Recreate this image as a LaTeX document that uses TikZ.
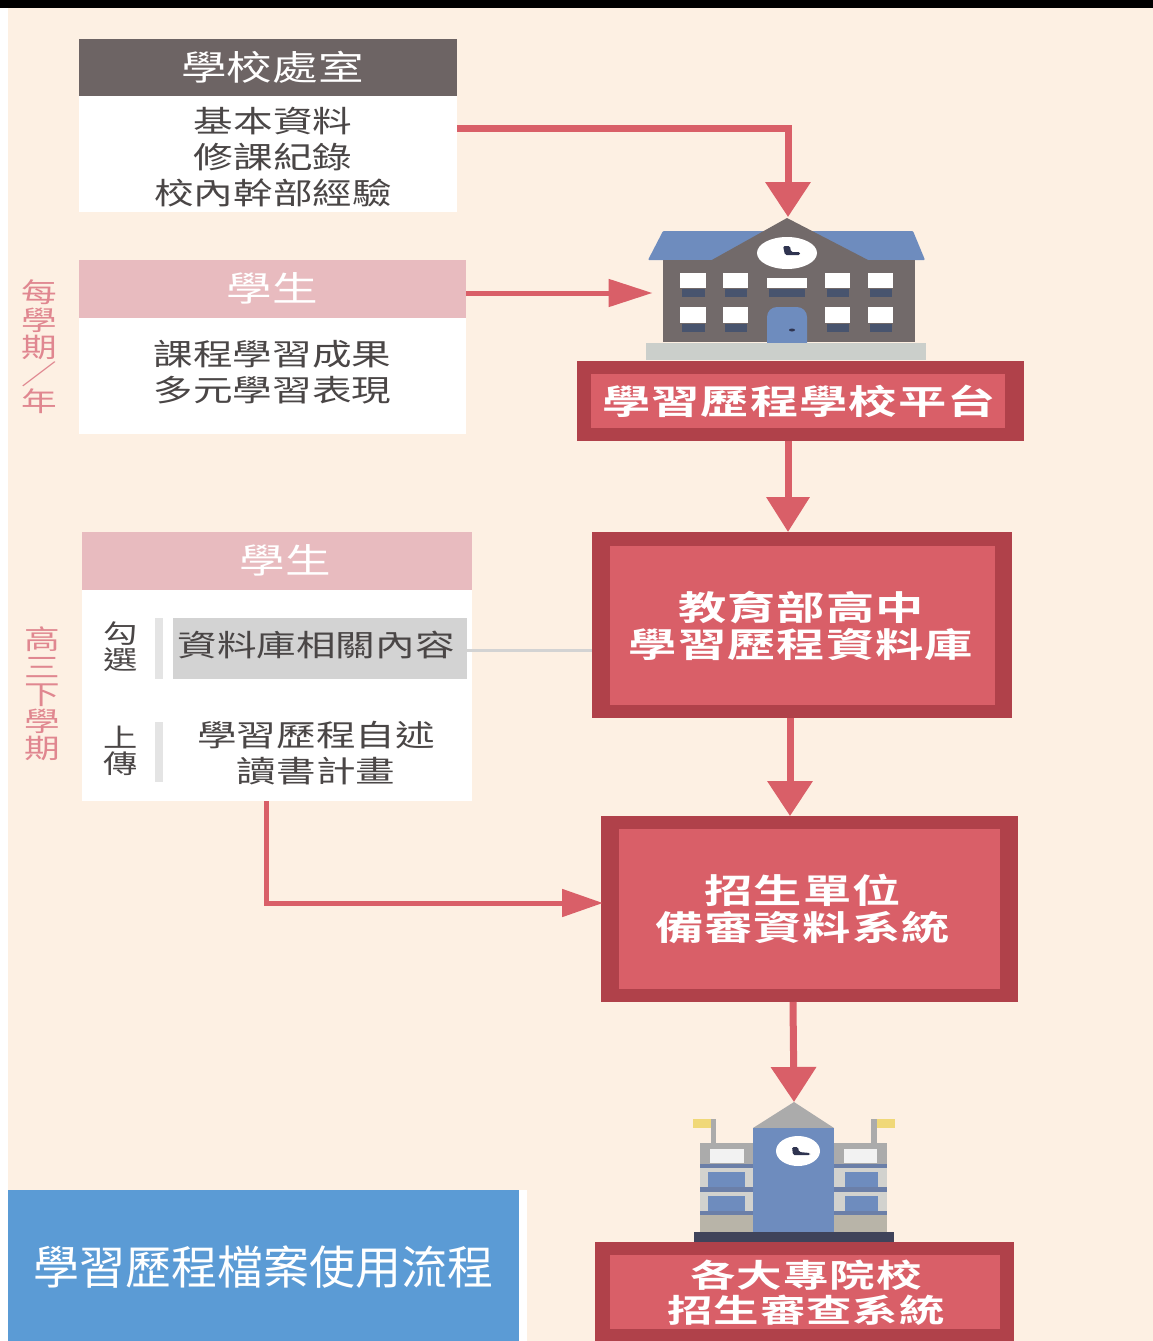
\documentclass[tikz,border=0pt]{standalone}
\usepackage{fontspec}
\usetikzlibrary{arrows.meta}
\newfontfamily\cjk[FakeStretch=1.32]{Noto Sans CJK TC}
\newfontfamily\cjkb[FakeStretch=1.42,BoldFont={Noto Sans CJK TC Bold},LetterSpace=3]{Noto Sans CJK TC}
\newfontfamily\cjkt{Noto Sans CJK TC}
\definecolor{bgc}{HTML}{FDF0E3}
\definecolor{redin}{HTML}{D95F68}
\definecolor{redout}{HTML}{B0414A}
\definecolor{darkh}{HTML}{6D6464}
\definecolor{pinkh}{HTML}{E8BBBF}
\definecolor{txt}{HTML}{4A4646}
\definecolor{pinkt}{HTML}{E08790}
\definecolor{gbar}{HTML}{E4E4E4}
\definecolor{gbox}{HTML}{D3D3D3}
\definecolor{bluea}{HTML}{6E8CBE}
\definecolor{greyb}{HTML}{726A6A}
\definecolor{darkw}{HTML}{48546E}
\definecolor{basec}{HTML}{CBCFCB}
\definecolor{wing}{HTML}{ABABAB}
\definecolor{winl}{HTML}{D2D2CE}
\definecolor{winb}{HTML}{B8B4A8}
\definecolor{strip}{HTML}{6B7FA8}
\definecolor{flag}{HTML}{F0D878}
\definecolor{hand}{HTML}{2F3450}
\definecolor{titleblue}{HTML}{5B9BD5}
\tikzset{
  plain/.style={inner sep=0pt,outer sep=0pt,align=center},
  headtext/.style={plain,text=white,font=\cjk\fontsize{34.5}{36}\selectfont},
  bodytext/.style={plain,text=txt,font=\cjk\fontsize{30}{36}\selectfont},
  sidetext/.style={plain,text=txt,font=\cjk\fontsize{26}{26}\selectfont},
  periodtext/.style={plain,text=pinkt,font=\cjk\fontsize{27}{27.2}\selectfont},
  redouter/.style={plain,fill=redout},
  redinner/.style={plain,fill=redin},
  redtext/.style={plain,text=white,font=\cjkb\bfseries\fontsize{34}{37}\selectfont},
  varrow/.style={draw=redin,line width=7pt,-{Triangle[length=35pt,width=44pt]}},
  harrow/.style={draw=redin,line width=5pt,-{Triangle[length=44pt,width=27pt]}},
}
\begin{document}
\begin{tikzpicture}[x=1pt,y=-1pt]
\useasboundingbox (0,0) rectangle (1153,1341);
\fill[white] (0,0) rectangle (1153,1341);
\fill[bgc] (8,8) rectangle (1153,1341);
\fill[black] (0,0) rectangle (1153,8);

% left column: school office
\node[plain,fill=darkh,minimum width=378pt,minimum height=57pt] (officehead) at (268,67.5) {};
\node[headtext] (officelabel) at (272.5,67) {學校處室};
\node[plain,fill=white,minimum width=378pt,minimum height=116pt] (office) at (268,154) {};
\node[bodytext] (officetext) at (273,157) {基本資料\\修課紀錄\\校內幹部經驗};

% student (each term)
\node[plain,fill=pinkh,minimum width=387pt,minimum height=58pt] (stuhead) at (272.5,289) {};
\node[headtext] (stulabel) at (272,288.5) {學生};
\node[plain,fill=white,minimum width=387pt,minimum height=116pt] (stu) at (272.5,376) {};
\node[bodytext] (stutext) at (272.5,372) {課程學習成果\\多元學習表現};

% student (senior year)
\node[plain,fill=pinkh,minimum width=390pt,minimum height=58pt] (stubhead) at (277,561) {};
\node[headtext] (stublabel) at (285,560.5) {學生};
\node[plain,fill=white,minimum width=390pt,minimum height=211pt] (stub) at (277,695.5) {};
\node[plain,fill=gbox,minimum width=294pt,minimum height=61pt] (dbitem) at (320,648.5) {};
\node[bodytext] (dbtext) at (316,645.5) {資料庫相關內容};
\node[plain,fill=gbar,minimum width=8pt,minimum height=61pt] (barone) at (159,648.5) {};
\node[plain,fill=gbar,minimum width=8pt,minimum height=60pt] (bartwo) at (159,752) {};
\node[sidetext] (pick) at (121,647) {勾\\選};
\node[sidetext] (upload) at (121,751) {上\\傳};
\node[bodytext] (selfdoc) at (316,753.5) {學習歷程自述\\讀書計畫};

% period labels
\node[periodtext] (termlabel) at (39,347) {每\\學\\期\\／\\年};
\node[periodtext] (yearlabel) at (42,694) {高\\三\\下\\學\\期};

% school building
\node[plain,minimum width=281pt,minimum height=143pt] (school) at (786,288.5) {};
\fill[bluea,rounded corners=1pt] (663,231) -- (913,231) -- (925,260) -- (648,260) -- cycle;
\fill[greyb] (663,260) rectangle (915,342);
\fill[greyb] (710,261) -- (787,218) -- (870,261) -- cycle;
\fill[white] (787,253) ellipse [x radius=30pt,y radius=16pt];
\fill[hand,rounded corners=1.5pt] (783,246) -- (790,246) -- (791,252) -- (800,252) -- (800,255) -- (785,255) -- cycle;
\foreach \a/\b in {680/706,723/748,825/850,868/893}{
  \fill[white] (\a,273) rectangle (\b,288);
  \fill[darkw] (\a+2,289) rectangle (\b-1,297);
  \fill[white] (\a,307) rectangle (\b,323);
  \fill[darkw] (\a+2,324) rectangle (\b-1,332);
}
\fill[white] (767,278) rectangle (807,288);
\fill[darkw] (769,289) rectangle (805,297);
\fill[bluea] (767,343) [rounded corners=10pt] -- (767,307) -- (807,307) [sharp corners] -- (807,343) -- cycle;
\fill[hand] (792,330) ellipse [x radius=3pt,y radius=1.5pt];
\fill[basec] (646,343) rectangle (926,360);

% red system boxes
\node[redouter,minimum width=447pt,minimum height=80pt] (plat) at (800.5,401) {};
\node[redinner,minimum width=414pt,minimum height=54pt] (platin) at (798,401) {};
\node[redtext] (plattext) at (799,401) {學習歷程學校平台};
\node[redouter,minimum width=420pt,minimum height=186pt] (db) at (802,625) {};
\node[redinner,minimum width=385pt,minimum height=159pt] (dbin) at (802,625.5) {};
\node[redtext] (dbtext2) at (801,625.5) {教育部高中\\學習歷程資料庫};
\node[redouter,minimum width=417pt,minimum height=186pt] (rec) at (809.5,909) {};
\node[redinner,minimum width=381pt,minimum height=160pt] (recin) at (809.5,909) {};
\node[redtext] (rectext) at (802.5,908.5) {招生單位\\備審資料系統};
\node[redouter,minimum width=419pt,minimum height=99pt,anchor=north] (uni) at (804.5,1242) {};
\node[redinner,minimum width=390pt,minimum height=74pt,anchor=north] (uniin) at (805,1255) {};
\node[redtext,font=\cjkb\bfseries\fontsize{32}{35}\selectfont] (unitext) at (806,1292.5) {各大專院校\\招生審查系統};

% university building
\node[plain,minimum width=200pt,minimum height=139pt] (college) at (794,1171.5) {};
\foreach \a/\b/\c/\d/\e/\f in {700/753/710/744/708/745,834/887/844/877/845/878}{
  \fill[wing] (\a,1143) rectangle (\b,1232);
  \fill[white!90!gray] (\c,1149) rectangle (\d,1163);
  \fill[winl] (\a,1168) rectangle (\b,1215);
  \fill[strip] (\a,1164) rectangle (\b,1168);
  \fill[strip] (\a,1187) rectangle (\b,1192);
  \fill[strip] (\a,1211) rectangle (\b,1215);
  \fill[bluea] (\e,1172) rectangle (\f,1187);
  \fill[bluea] (\e,1196) rectangle (\f,1211);
  \fill[winb] (\a,1215) rectangle (\b,1232);
}
\fill[wing] (711,1119) rectangle (716,1143);
\fill[wing] (871,1119) rectangle (877,1143);
\fill[flag] (693,1119) rectangle (711,1128);
\fill[flag] (877,1119) rectangle (895,1128);
\fill[wing] (753,1128) -- (794,1102) -- (834,1128) -- cycle;
\fill[bluea] (753,1128) rectangle (834,1232);
\fill[white] (798,1151) ellipse [x radius=22pt,y radius=15pt];
\fill[hand,rounded corners=1.5pt] (792,1147) -- (798,1147) -- (799,1152) -- (810,1153) -- (810,1155) -- (793,1155) -- cycle;
\fill[hand!80!gray] (694,1232) rectangle (894,1242);

% connectors
\draw[varrow] ([yshift=26pt]office.east) -| ([xshift=2pt]school.north);
\draw[harrow] ([yshift=-4pt]stuhead.east) -- ([yshift=-4.5pt,xshift=7pt]school.west);
\draw[varrow,-{Triangle[length=35pt,width=42pt]}] ([xshift=-12.5pt]plat.south) -- ([xshift=-14pt]db.north);
\draw[varrow] ([xshift=-12pt]db.south) -- ([xshift=-19.5pt]rec.north);
\draw[harrow,-{Triangle[length=41pt,width=27pt]}] ([xshift=-11pt]stub.south) |- ([yshift=6pt,xshift=2pt]rec.west);
\draw[varrow] ([xshift=-16.5pt]rec.south) -- (college.north);
\draw[gbox,line width=3pt] ([yshift=-1.5pt]dbitem.east) -- ([yshift=-25pt]db.west);

% title
\fill[white] (8,1190) rectangle (527,1341);
\node[plain,fill=titleblue,minimum width=511pt,minimum height=151pt] (title) at (263.5,1265.5) {};
\node[plain,text=white,font=\cjkt\fontsize{46}{50}\selectfont] (titletext) at (263.5,1267.5) {學習歷程檔案使用流程};
\end{tikzpicture}
\end{document}
